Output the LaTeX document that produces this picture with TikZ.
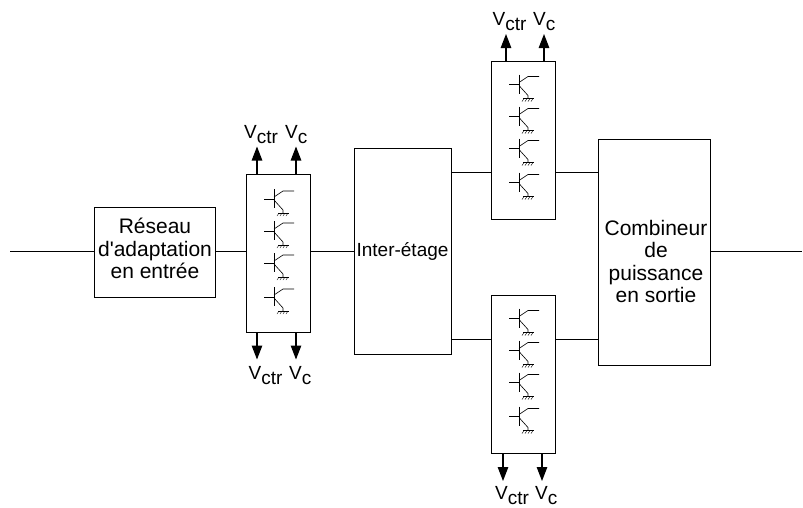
\documentclass[tikz,border=0pt]{standalone}
\usepackage{fontspec}
\newfontfamily\plainsans{Liberation Sans}
\usetikzlibrary{positioning, arrows.meta, calc}
\newcommand{\vlab}[1]{V\raisebox{-5pt}{#1}}

\begin{document}
\begin{tikzpicture}[
  x=1pt, y=-1pt,
  every node/.style={font=\plainsans\fontsize{19}{23}\selectfont},
  blk/.style={draw, line width=1pt, inner sep=0pt, align=center},
  blktxt/.style={font=\plainsans\fontsize{21}{22.5}\selectfont, align=center, inner sep=0pt},
  cell/.style={blk, minimum width=63.5pt, minimum height=158pt},
  wire/.style={line width=0.5pt},
  arr/.style={-{Triangle[length=14pt, width=10.5pt]}, line width=1.2pt},
  vlabel/.style={anchor=base west, inner sep=0pt},
  trans/.pic={
    \draw[line width=0.6pt] (-10,0) -- (0,0) (0,-10) -- (0,9);
    \draw[line width=0.6pt] (0,-2) -- (9,-8) -- (20,-8);
    \draw[line width=0.6pt] (0,1) -- (9,11) -- (9,14);
    \draw[line width=0.6pt] (4,14) -- (15,14);
    \foreach \h in {5,8,11,14}
      \draw[line width=0.4pt] (\h,14) -- (\h-2,17);
  },
]
\useasboundingbox (0,0) rectangle (803,507);

% Blocks
\node[blk, minimum width=121.5pt, minimum height=90pt] (reseau) at (155,252) {};
\node[blktxt] (reseautxt) at (155,248.5) {R\'eseau\\d'adaptation\\en entr\'ee};
\node[blk, minimum width=97pt, minimum height=206pt] (inter) at (402.5,251) {Inter-\'etage};
\node[blk, minimum width=112pt, minimum height=226pt] (comb) at (654,252) {};
\node[blktxt] (combtxt) at (656,261.5) {Combineur\\de\\puissance\\en sortie};

% Transistor cells
\node[cell] (c1) at (278.5,253) {};
\node[cell] (c2) at (523.5,140.5) {};
\node[cell] (c3) at (523.5,374.5) {};
\foreach \c/\oy in {c1/0, c2/-2, c3/-2}{
  \foreach \i/\dy in {1/-54, 2/-22, 3/10, 4/44}{
    \path (\c) ++(-4.5,\dy+\oy) pic {trans};
  }
}

% Wires
\coordinate (in) at (10,251);
\coordinate (out) at (802,251);
\draw[wire] (in) -- (in -| reseau.west);
\draw[wire] (reseau.east |- in) -- (c1.west |- in);
\draw[wire] (c1.east |- in) -- (inter.west |- in);
\draw[wire] (comb.east |- out) -- (out);
\foreach \c/\s in {c2/172, c3/339}{
  \coordinate (y\c) at (0,\s);
  \draw[wire] (inter.east |- y\c) -- (\c.west |- y\c);
  \draw[wire] (\c.east |- y\c) -- (comb.west |- y\c);
}

% Arrows and labels
\foreach \c/\a/\b/\p/\q in {c1/-21.5/17.5/-34.5/6.5, c2/-17.5/20.5/-31/9.5}{
  \draw[arr] ([xshift=\a]\c.north) -- ++(0,-27);
  \draw[arr] ([xshift=\b]\c.north) -- ++(0,-27);
  \node[vlabel] (\c ctr) at ($(\c.north)+(\p,-35.5)$) {\vlab{ctr}};
  \node[vlabel] (\c v) at ($(\c.north)+(\q,-35.5)$) {\vlab{c}};
}
\foreach \c/\a/\b/\p/\q/\h in {c1/-21.5/17.5/-30/10.5/46.5, c3/-20.5/18.5/-28.5/11.5/45}{
  \draw[arr] ([xshift=\a]\c.south) -- ++(0,27);
  \draw[arr] ([xshift=\b]\c.south) -- ++(0,27);
  \node[vlabel] (\c ctr) at ($(\c.south)+(\p,\h)$) {\vlab{ctr}};
  \node[vlabel] (\c v) at ($(\c.south)+(\q,\h)$) {\vlab{c}};
}

\end{tikzpicture}
\end{document}
